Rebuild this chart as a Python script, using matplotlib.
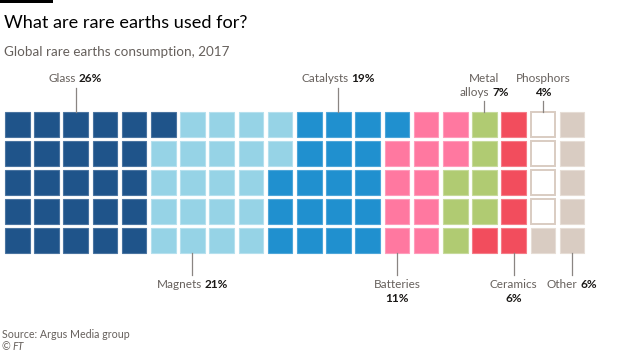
import numpy as np
import matplotlib
matplotlib.use("Agg")
import matplotlib.pyplot as plt
from matplotlib.patches import Rectangle

plt.rcParams["font.family"] = ["Lato", "DejaVu Sans"]

# share of global rare earths consumption, 2017 (%), in fill order
categories = ["Glass", "Magnets", "Catalysts", "Batteries",
              "Metal alloys", "Ceramics", "Phosphors", "Other"]
shares = [26, 21, 19, 11, 7, 6, 4, 6]
# how each label is broken into lines (the value goes on the last line)
label_lines = [["Glass"], ["Magnets"], ["Catalysts"], ["Batteries", ""],
               ["Metal", "alloys"], ["Ceramics", ""], ["Phosphors", ""], ["Other"]]

# styling / layout
colors = ["#1f548a", "#96d3e6", "#2090cf", "#ff78a0",
          "#b0cb72", "#f24d5d", "#ffffff", "#d9ccc2"]
edges = ["#4a74a0", "#b5e0ee", "#4ea6d9", "#ff9cbb",
         "#c6da9b", "#f57c88", "#d9ccc2", "#e6ddd5"]
label_col = [2, 6, 11, 13, 16, 17, 18, 19]
label_top = [True, False, True, False, True, False, True, False]

NROWS = 5
X0, Y0 = 5, 112
PX, PY = 29.2, 29.0
SIZE = 24.5
GREY, DARK = "#66605c", "#1a1816"
FS = 8.5

fig = plt.figure(figsize=(6.2, 3.54), dpi=100)
ax = fig.add_axes([0, 0, 1, 1])
ax.set_xlim(0, 620)
ax.set_ylim(354, 0)
ax.axis("off")

cells = np.repeat(np.arange(len(shares)), shares)
for k, c in enumerate(cells):
    col, row = divmod(k, NROWS)
    lw = 1.4 if c == 6 else 0.8
    ax.add_patch(Rectangle((X0 + col * PX, Y0 + row * PY), SIZE, SIZE,
                           facecolor=colors[c], edgecolor=edges[c], lw=lw))

renderer = fig.canvas.get_renderer()


def centred_line(x, y, grey, bold):
    parts = []
    if grey:
        parts.append(ax.text(0, y, grey, color=GREY, fontsize=FS, va="baseline"))
    if bold:
        parts.append(ax.text(0, y, bold, color=DARK, fontsize=FS,
                             fontweight="bold", va="baseline"))
    widths = [p.get_window_extent(renderer).width for p in parts]
    gap = 2.8 if len(parts) == 2 else 0
    left = x - (sum(widths) + gap) / 2
    for p, w in zip(parts, widths):
        p.set_x(left)
        left += w + gap


LINE_H = 13.8
for i, name in enumerate(categories):
    x = X0 + label_col[i] * PX + SIZE / 2
    lines = label_lines[i]
    value = f"{shares[i]}%"
    n = len(lines)
    if label_top[i]:
        last_base = 82.5 + (n - 1) * LINE_H
        ax.plot([x, x], [last_base + 5, Y0], color="#8a8582", lw=0.9)
    else:
        last_base = 288 + (n - 1) * LINE_H
        ax.plot([x, x], [Y0 + 4 * PY + SIZE, 275], color="#8a8582", lw=0.9)
    for j, txt in enumerate(lines):
        y = last_base - (n - 1 - j) * LINE_H
        centred_line(x, y, txt, value if j == n - 1 else None)

ax.add_patch(Rectangle((0, 0), 53, 3.3, facecolor="black", lw=0))
ax.text(4, 28.5, "What are rare earths used for?", fontsize=13.1,
        color="#000000", va="baseline")
ax.text(4, 55.5, "Global rare earths consumption, 2017", fontsize=9.7,
        color=GREY, va="baseline")
ax.text(2, 338, "Source: Argus Media group", fontsize=7.7, color=GREY, va="baseline")
ax.text(2, 350.5, "©", fontsize=7.7, color=GREY, va="baseline")
ax.text(12, 350.5, "FT", fontsize=7.7, color=GREY, va="baseline", style="italic")

fig.savefig("out.png", dpi=100, facecolor="white")
